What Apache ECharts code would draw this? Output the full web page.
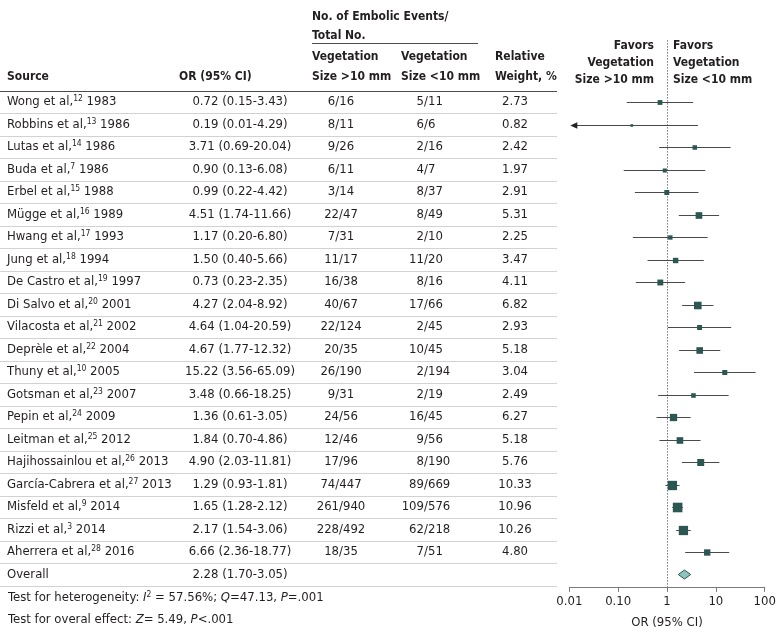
<!DOCTYPE html>
<html><head><meta charset="utf-8">
<script src="https://cdn.jsdelivr.net/npm/echarts@6/dist/echarts.min.js"></script>
<style>html,body{margin:0;padding:0;background:#fff}#c{width:780px;height:641px}</style>
</head><body><div id="c"></div>
<script>
// ---------------- DATA ----------------
const authors = ['Wong et al,','Robbins et al,','Lutas et al,','Buda et al,','Erbel et al,','Mügge et al,','Hwang et al,','Jung et al,','De Castro et al,','Di Salvo et al,','Vilacosta et al,','Deprèle et al,','Thuny et al,','Gotsman et al,','Pepin et al,','Leitman et al,','Hajihossainlou et al,','García-Cabrera et al,','Misfeld et al,','Rizzi et al,','Aherrera et al,'];
const refs = ['12','13','14','7','15','16','17','18','19','20','21','22','10','23','24','25','26','27','9','3','28'];
const years = ['1983','1986','1986','1986','1988','1989','1993','1994','1997','2001','2002','2004','2005','2007','2009','2012','2013','2013','2014','2014','2016'];
const orVals = [0.72,0.19,3.71,0.90,0.99,4.51,1.17,1.50,0.73,4.27,4.64,4.67,15.22,3.48,1.36,1.84,4.90,1.29,1.65,2.17,6.66];
const ciLow  = [0.15,0.01,0.69,0.13,0.22,1.74,0.20,0.40,0.23,2.04,1.04,1.77,3.56,0.66,0.61,0.70,2.03,0.93,1.28,1.54,2.36];
const ciHigh = [3.43,4.29,20.04,6.08,4.42,11.66,6.80,5.66,2.35,8.92,20.59,12.32,65.09,18.25,3.05,4.86,11.81,1.81,2.12,3.06,18.77];
const eventsLarge = ['6/16','8/11','9/26','6/11','3/14','22/47','7/31','11/17','16/38','40/67','22/124','20/35','26/190','9/31','24/56','12/46','17/96','74/447','261/940','228/492','18/35'];
const eventsSmall = ['5/11','6/6','2/16','4/7','8/37','8/49','2/10','11/20','8/16','17/66','2/45','10/45','2/194','2/19','16/45','9/56','8/190','89/669','109/576','62/218','7/51'];
const weights = [2.73,0.82,2.42,1.97,2.91,5.31,2.25,3.47,4.11,6.82,2.93,5.18,3.04,2.49,6.27,5.18,5.76,10.33,10.96,10.26,4.80];
const overallLabel = 'Overall';
const overallOR = 2.28, overallLow = 1.70, overallHigh = 3.05;
const tickValues = [0.01, 0.1, 1, 10, 100];
const tickLabels = ['0.01', '0.10', '1', '10', '100'];

// ---------------- STYLE / LAYOUT ----------------
const FONT = '"DejaVu Sans Condensed","Liberation Sans Narrow",sans-serif';
const FS = 13, FSB = 12;
const TXT = '#231f20';
const MARK = '#2b5651';
const DIAMOND_FILL = '#8fc4be';
const COL = { source: 7, or: 240, large: 341, small: 424, weight: 515, lineEnd: 557 };
const Y_MIN = -2.75, Y_MAX = 21.55;
const GRID_TOP = 40.125, GRID_H = 546.75;
const XMIN = 0.01, XMAX = 100;

const nRows = authors.length;
const tableData = [];
for (let i = 0; i <= nRows; i++) tableData.push([i]);
const forestData = orVals.map((v, i) => [i, v, ciLow[i], ciHigh[i], weights[i]]);

function f(size, weight) { return (weight ? weight + ' ' : '') + size + 'px ' + FONT; }

function txt(x, y, text, align, extra) {
  return { type: 'text', style: Object.assign({
    x: x, y: y, text: text, fill: TXT, font: f(FS),
    align: align, textAlign: align, verticalAlign: 'middle', textVerticalAlign: 'middle'
  }, extra || {}) };
}

const richN = { font: f(FS), fill: TXT, lineHeight: 15 };
const richS = { font: f(8.5), fill: TXT, lineHeight: 9, verticalAlign: 'top' };
const richI = { font: 'italic ' + f(FS), fill: TXT, lineHeight: 15 };

function tableItem(params, api) {
  const i = api.value(0);
  const y = api.coord([0, i])[1];
  const cx = v => api.coord([v, i])[0];
  const children = [];
  const yLine = Math.round(api.coord([0, i + 0.5])[1]) + 0.5;
  children.push({ type: 'line', shape: { x1: cx(0), y1: yLine, x2: cx(COL.lineEnd), y2: yLine },
    style: { stroke: '#d2d2d2', lineWidth: 1 } });
  if (i === 0) {
    const yh = Math.round(api.coord([0, -0.5])[1]) + 0.5;
    children.push({ type: 'line', shape: { x1: cx(0), y1: yh, x2: cx(COL.lineEnd), y2: yh },
      style: { stroke: '#4d4d4d', lineWidth: 1.2 } });
  }
  if (i < nRows) {
    children.push(txt(cx(COL.source), y, '{n|' + authors[i] + '}{s|' + refs[i] + '}{n| ' + years[i] + '}', 'left', {
      rich: { n: richN, s: richS }
    }));
    children.push(txt(cx(COL.or), y, orVals[i].toFixed(2) + ' (' + ciLow[i].toFixed(2) + '-' + ciHigh[i].toFixed(2) + ')', 'center'));
    children.push(txt(cx(COL.large), y, eventsLarge[i], 'center'));
    const parts = eventsSmall[i].split('/');
    children.push(txt(cx(COL.small), y, parts[0], 'right'));
    children.push(txt(cx(COL.small), y, '/' + parts[1], 'left'));
    children.push(txt(cx(COL.weight), y, weights[i].toFixed(2), 'center'));
  } else {
    children.push(txt(cx(COL.source), y, overallLabel, 'left'));
    children.push(txt(cx(COL.or), y, overallOR.toFixed(2) + ' (' + overallLow.toFixed(2) + '-' + overallHigh.toFixed(2) + ')', 'center'));
  }
  return { type: 'group', children: children };
}

function forestItem(params, api) {
  const i = api.value(0);
  const lo = api.value(2), hi = api.value(3);
  const pOr = api.coord([api.value(1), i]);
  const pLo = api.coord([Math.max(lo, XMIN), i]);
  const pHi = api.coord([Math.min(hi, XMAX), i]);
  const s = 2.9 * Math.sqrt(api.value(4));
  const yl = Math.round(pOr[1]) + 0.5;
  const children = [];
  const arrow = lo <= XMIN;
  children.push({ type: 'line', shape: { x1: pLo[0] + (arrow ? 4 : 0), y1: yl, x2: pHi[0], y2: yl },
    style: { stroke: '#4a4a4a', lineWidth: 1 } });
  if (arrow) {
    children.push({ type: 'polygon', shape: { points: [[pLo[0] + 1, yl], [pLo[0] + 8, yl - 3.2], [pLo[0] + 8, yl + 3.2]] },
      style: { fill: '#222' } });
  }
  children.push({ type: 'rect', shape: { x: pOr[0] - s / 2, y: yl - s / 2, width: s, height: s },
    style: { fill: MARK } });
  return { type: 'group', children: children };
}

function diamondItem(params, api) {
  const i = api.value(0);
  const c = api.coord([api.value(1), i]);
  const l = api.coord([api.value(2), i]);
  const h = api.coord([api.value(3), i]);
  return { type: 'polygon', shape: { points: [[l[0], c[1]], [c[0], c[1] - 4.5], [h[0], c[1]], [c[0], c[1] + 4.5]] },
    style: { fill: DIAMOND_FILL, stroke: MARK, lineWidth: 1 } };
}

function refLineItem(params, api) {
  const a = api.coord([1, Y_MIN]);
  const b = api.coord([1, Y_MAX]);
  const x = Math.round(a[0]) + 0.5;
  return { type: 'line', shape: { x1: x, y1: a[1], x2: x, y2: b[1] },
    style: { stroke: '#777', lineWidth: 1, lineDash: [1.5, 1.5] } };
}

const headerBold = (x, y, t, align) => ({ type: 'text', style: { x: x, y: y, text: t, font: f(FSB, 'bold'), fill: TXT,
  align: align || 'left', textAlign: align || 'left', verticalAlign: 'middle', textVerticalAlign: 'middle' } });

const graphics = [
  headerBold(312, 17, 'No. of Embolic Events/'),
  headerBold(312, 36, 'Total No.'),
  { type: 'line', shape: { x1: 312, y1: 43.5, x2: 478, y2: 43.5 }, style: { stroke: '#4d4d4d', lineWidth: 1 } },
  headerBold(7, 77, 'Source'),
  headerBold(179, 77, 'OR (95% CI)'),
  headerBold(312, 57, 'Vegetation'),
  headerBold(312, 77, 'Size >10 mm'),
  headerBold(401, 57, 'Vegetation'),
  headerBold(401, 77, 'Size <10 mm'),
  headerBold(495, 57, 'Relative'),
  headerBold(495, 77, 'Weight, %'),
  headerBold(654, 46, 'Favors', 'right'),
  headerBold(654, 63, 'Vegetation', 'right'),
  headerBold(654, 80, 'Size >10 mm', 'right'),
  headerBold(673, 46, 'Favors'),
  headerBold(673, 63, 'Vegetation'),
  headerBold(673, 80, 'Size <10 mm'),
  { type: 'text', style: { x: 8, y: 598, fill: TXT, font: f(FS), verticalAlign: 'middle', textVerticalAlign: 'middle',
    text: '{n|Test for heterogeneity: }{i|I}{s|2}{n| = 57.56%; }{i|Q}{n|=47.13, }{i|P}{n|=.001}',
    rich: { n: richN, i: richI, s: richS } } },
  { type: 'text', style: { x: 8, y: 620, fill: TXT, font: f(FS), verticalAlign: 'middle', textVerticalAlign: 'middle',
    text: '{n|Test for overal effect: }{i|Z}{n|= 5.49, }{i|P}{n|<.001}',
    rich: { n: richN, i: richI } } }
];

const chart = echarts.init(document.getElementById('c'), null, { renderer: 'canvas' });
chart.setOption({
  animation: false,
  backgroundColor: '#fff',
  grid: [
    { left: 569.3, width: 195.4, top: GRID_TOP, height: GRID_H },
    { left: 0, width: 560, top: GRID_TOP, height: GRID_H }
  ],
  xAxis: [
    { type: 'log', logBase: 10, min: XMIN, max: XMAX, gridIndex: 0, position: 'bottom',
      axisLine: { onZero: false, lineStyle: { color: '#7a7a7a', width: 1 } },
      axisTick: { show: true, length: 5, lineStyle: { color: '#7a7a7a' } },
      axisLabel: { color: TXT, fontFamily: FONT, fontSize: FS, margin: 8,
        formatter: v => { const k = tickValues.findIndex(t => Math.abs(Math.log10(t) - Math.log10(v)) < 1e-6); return k >= 0 ? tickLabels[k] : ''; } },
      splitLine: { show: false },
      name: 'OR (95% CI)', nameLocation: 'middle', nameGap: 29,
      nameTextStyle: { color: TXT, fontFamily: FONT, fontSize: FS } },
    { type: 'value', min: 0, max: 560, gridIndex: 1, show: false }
  ],
  yAxis: [
    { type: 'value', inverse: true, min: Y_MIN, max: Y_MAX, gridIndex: 0, show: false },
    { type: 'value', inverse: true, min: Y_MIN, max: Y_MAX, gridIndex: 1, show: false }
  ],
  series: [
    { type: 'custom', xAxisIndex: 1, yAxisIndex: 1, data: tableData, renderItem: tableItem, silent: true },
    { type: 'custom', xAxisIndex: 0, yAxisIndex: 0, data: [[0]], renderItem: refLineItem, silent: true, z: 1 },
    { type: 'custom', xAxisIndex: 0, yAxisIndex: 0, data: forestData, renderItem: forestItem, silent: true, z: 3 },
    { type: 'custom', xAxisIndex: 0, yAxisIndex: 0, data: [[nRows, overallOR, overallLow, overallHigh]], renderItem: diamondItem, silent: true, z: 3 }
  ],
  graphic: graphics
});
</script></body></html>
